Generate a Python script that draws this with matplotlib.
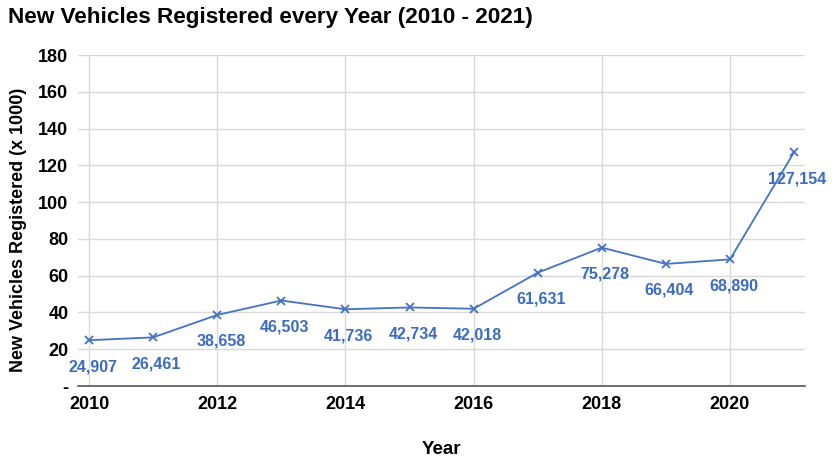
import numpy as np
import matplotlib.pyplot as plt

plt.rcParams['font.family'] = ['Liberation Sans', 'DejaVu Sans']

# registrations per year, in thousands
years = [2010, 2011, 2012, 2013, 2014, 2015, 2016, 2017, 2018, 2019, 2020, 2021]
registered = [24907, 26461, 38658, 46503, 41736, 42734, 42018, 61631, 75278, 66404, 68890, 127154]
y_ticks = [0, 20, 40, 60, 80, 100, 120, 140, 160, 180]
y_tick_labels = ['-', '20', '40', '60', '80', '100', '120', '140', '160', '180']
x_ticks = [2010, 2012, 2014, 2016, 2018, 2020]

blue = '#4472c4'
label_blue = '#3b6cc0'

fig = plt.figure(figsize=(8.32, 4.59), dpi=100)
ax = fig.add_axes([0.094, 0.159, 0.8735, 0.721])

vals = np.array(registered) / 1000
ax.plot(years, vals, color=blue, lw=1.3, marker='x', ms=6, mew=1.3)

for x, v, raw in zip(years, vals, registered):
    ax.annotate(f'{raw:,}', (x, v), xytext=(2.5, -19), textcoords='offset points',
                ha='center', va='center', color=label_blue, fontsize=11.5, fontweight='bold')

ax.set_xlim(2009.83, 2021.17)
ax.set_ylim(0, 180)
ax.set_yticks(y_ticks)
ax.set_yticklabels(y_tick_labels)
ax.set_xticks(x_ticks)
ax.grid(True, color='#d9d9d9', lw=1)
ax.set_axisbelow(True)
for s in ['left', 'right', 'top']:
    ax.spines[s].set_visible(False)
ax.spines['bottom'].set_color('#555555')
ax.spines['bottom'].set_linewidth(1.2)
ax.tick_params(axis='y', length=0, labelsize=13, pad=7)
ax.tick_params(axis='x', length=0, labelsize=13, pad=7)
for t in ax.get_xticklabels() + ax.get_yticklabels():
    t.set_fontweight('bold')

ax.set_xlabel('Year', fontsize=13.5, fontweight='bold', labelpad=20)
ax.set_ylabel('New Vehicles Registered (x 1000)', fontsize=13, fontweight='bold')
ax.yaxis.set_label_coords(-0.07, 0.471)
fig.text(0.01, 0.962, 'New Vehicles Registered every Year (2010 - 2021)',
         fontsize=16.2, fontweight='bold', va='center', ha='left')

plt.savefig('out.png', dpi=100)
plt.close()
